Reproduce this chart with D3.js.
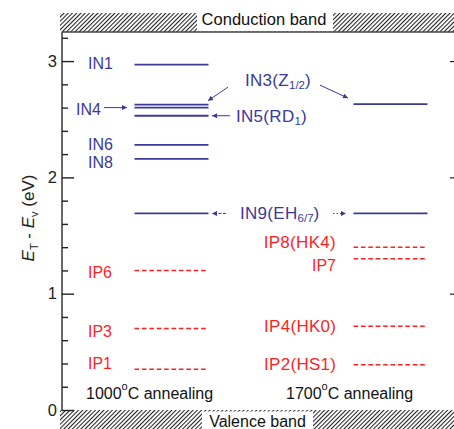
<!DOCTYPE html>
<html>
<head>
<meta charset="utf-8">
<script src="https://cdn.jsdelivr.net/npm/d3@7"></script>
<style>
  html, body { margin: 0; padding: 0; background: #fff; }
  svg { display: block; font-family: "Liberation Sans", Arial, sans-serif; }
</style>
</head>
<body>
<svg id="chart" width="454" height="429"></svg>
<script>
// Annealing temperatures (columns)
const groups = ["1000", "1700"];

// Electron-trap (IN) levels, E_T - E_v in eV
const inNames1000 = ["IN1", "IN3", "IN4", "IN5", "IN6", "IN8", "IN9"];
const inLevels1000 = [2.97, 2.625, 2.60, 2.53, 2.28, 2.16, 1.69];
const inNames1700 = ["IN3", "IN9"];
const inLevels1700 = [2.63, 1.69];

// Hole-trap (IP) levels, E_T - E_v in eV
const ipNames1000 = ["IP6", "IP3", "IP1"];
const ipLevels1000 = [1.20, 0.70, 0.35];
const ipNames1700 = ["IP8", "IP7", "IP4", "IP2"];
const ipLevels1700 = [1.40, 1.30, 0.72, 0.39];

// Axis ticks
const majorTicks = [0, 1, 2, 3];
const minorTicks = [0.2, 0.4, 0.6, 0.8, 1.2, 1.4, 1.6, 1.8, 2.2, 2.4, 2.6, 2.8, 3.2];

const BLUE = "#3a3a98";
const RED = "#ff1f1f";
const W = 454, H = 429;
const plot = { left: 62, right: 454, top: 32, bottom: 410 };

const svg = d3.select("#chart");

const y = d3.scaleLinear().domain([0, 3.25]).range([plot.bottom, plot.top]);
const x = d3.scalePoint().domain(groups).range([171.5, 390.5]);
const halfLen = 37;

// hatch pattern for the band regions
const defs = svg.append("defs");
const pat = defs.append("pattern")
  .attr("id", "hatch").attr("patternUnits", "userSpaceOnUse")
  .attr("width", 3).attr("height", 3)
  .attr("patternTransform", "rotate(45)");
pat.append("rect").attr("width", 3).attr("height", 3).attr("fill", "#fff");
pat.append("line").attr("x1", 0).attr("y1", 0).attr("x2", 0).attr("y2", 3)
  .attr("stroke", "#222").attr("stroke-width", 2.1);

function marker(id, color) {
  defs.append("marker").attr("id", id)
    .attr("viewBox", "0 0 10 10").attr("refX", 10).attr("refY", 5)
    .attr("markerWidth", 7).attr("markerHeight", 5)
    .attr("markerUnits", "userSpaceOnUse")
    .attr("orient", "auto")
    .append("path").attr("d", "M0,0 L10,5 L0,10 Z").attr("fill", color);
}
marker("arrBlue", BLUE);

// Conduction band (top) and valence band (bottom)
svg.append("rect").attr("x", 60).attr("y", 13).attr("width", W - 60).attr("height", plot.top - 13)
  .attr("fill", "url(#hatch)");
svg.append("rect").attr("x", 60).attr("y", plot.bottom).attr("width", W - 60).attr("height", H - plot.bottom)
  .attr("fill", "url(#hatch)");
svg.append("rect").attr("x", 197).attr("y", 12).attr("width", 136).attr("height", plot.top - 12.5).attr("fill", "#fff");
svg.append("rect").attr("x", 202).attr("y", plot.bottom + 1.5).attr("width", 111).attr("height", H - plot.bottom).attr("fill", "#fff");
svg.append("text").attr("x", 264).attr("y", 18.5).attr("text-anchor", "middle")
  .attr("dominant-baseline", "central").attr("font-size", 16.5).attr("fill", "#111")
  .text("Conduction band");
svg.append("text").attr("x", 257.5).attr("y", 421).attr("text-anchor", "middle")
  .attr("dominant-baseline", "central").attr("font-size", 16).attr("fill", "#111")
  .text("Valence band");

// frame lines
svg.append("line").attr("x1", plot.left).attr("x2", W).attr("y1", plot.top).attr("y2", plot.top)
  .attr("stroke", "#444").attr("stroke-width", 1.3);
svg.append("line").attr("x1", plot.left).attr("x2", plot.left).attr("y1", plot.top).attr("y2", plot.bottom)
  .attr("stroke", "#444").attr("stroke-width", 1.6);

// left axis: major ticks with labels, minor ticks inside
const gMaj = svg.append("g").attr("transform", `translate(${plot.left},0)`)
  .call(d3.axisLeft(y).tickValues(majorTicks).tickSize(-12).tickPadding(5).tickFormat(d3.format("d")));
const gMin = svg.append("g").attr("transform", `translate(${plot.left},0)`)
  .call(d3.axisLeft(y).tickValues(minorTicks).tickSize(-6).tickFormat(""));
[gMaj, gMin].forEach(g => {
  g.select(".domain").remove();
  g.selectAll(".tick line").attr("stroke", "#222").attr("stroke-width", 1.4);
});
gMaj.selectAll(".tick text").attr("font-size", 16.5).attr("fill", "#222")
  .attr("font-family", "Liberation Sans, Arial, sans-serif");

// right axis: short major ticks
const gR = svg.append("g").attr("transform", `translate(${W},0)`)
  .call(d3.axisRight(y).tickValues(majorTicks.filter(v => v > 0)).tickSize(-4).tickFormat(""));
gR.select(".domain").remove();
gR.selectAll(".tick line").attr("stroke", "#222").attr("stroke-width", 1.2);

// y axis title
const yt = svg.append("text")
  .attr("transform", "translate(34,218) rotate(-90)")
  .attr("text-anchor", "middle").attr("font-size", 17).attr("fill", "#222");
yt.append("tspan").attr("font-style", "italic").text("E");
yt.append("tspan").attr("font-size", 11).attr("dy", 4).text("T");
yt.append("tspan").attr("dy", -4).text(" - ");
yt.append("tspan").attr("font-style", "italic").text("E");
yt.append("tspan").attr("font-size", 11).attr("dy", 4).text("v");
yt.append("tspan").attr("dy", -4).text(" (eV)");

// energy level lines
function drawLevels(group, levels, color, dashed) {
  svg.append("g").selectAll("line").data(levels).join("line")
    .attr("x1", x(group) - halfLen).attr("x2", x(group) + halfLen)
    .attr("y1", d => y(d)).attr("y2", d => y(d))
    .attr("stroke", color)
    .attr("stroke-width", dashed ? 1.5 : 1.8)
    .attr("stroke-dasharray", dashed ? "4.6,2.8" : null);
}
drawLevels("1000", inLevels1000, BLUE, false);
drawLevels("1700", inLevels1700, BLUE, false);
drawLevels("1000", ipLevels1000, RED, true);
drawLevels("1700", ipLevels1700, RED, true);

// label helper: parts = [[text, isSub], ...]
function label(xPos, yPos, parts, color, anchor, size) {
  const t = svg.append("text").attr("x", xPos).attr("y", yPos)
    .attr("dominant-baseline", "central").attr("text-anchor", anchor || "start")
    .attr("font-size", size || 16).attr("fill", color);
  if (size) t.attr("letter-spacing", 0.3);
  let sub = false;
  parts.forEach(([s, isSub]) => {
    const sp = t.append("tspan").text(s);
    if (isSub && !sub) sp.attr("dy", 5);
    if (!isSub && sub) sp.attr("dy", -5);
    if (isSub) sp.attr("font-size", 11.5).attr("letter-spacing", 0);
    sub = isSub;
  });
  return t;
}
const lv = (names, levels, n) => levels[names.indexOf(n)];

// 1000 °C column labels (left of the lines)
const xL = 88;
label(xL, y(lv(inNames1000, inLevels1000, "IN1")) - 2, [["IN1"]], BLUE);
label(76, y(lv(inNames1000, inLevels1000, "IN4")) + 1, [["IN4"]], BLUE);
label(xL, y(lv(inNames1000, inLevels1000, "IN6")) - 1, [["IN6"]], BLUE);
label(xL, y(lv(inNames1000, inLevels1000, "IN8")) + 3, [["IN8"]], BLUE);
label(xL, y(lv(ipNames1000, ipLevels1000, "IP6")) + 2, [["IP6"]], RED);
label(xL, y(lv(ipNames1000, ipLevels1000, "IP3")) + 2, [["IP3"]], RED);
label(xL, y(lv(ipNames1000, ipLevels1000, "IP1")) - 6, [["IP1"]], RED);

// middle labels
const yIN3 = y(lv(inNames1700, inLevels1700, "IN3"));
label(245, yIN3 - 24, [["IN3(Z"], ["1/2", true], [")"]], BLUE, "start", 17);
label(236, y(lv(inNames1000, inLevels1000, "IN5")), [["IN5(RD"], ["1", true], [")"]], BLUE, "start", 17);
label(240, y(lv(inNames1700, inLevels1700, "IN9")), [["IN9(EH"], ["6/7", true], [")"]], BLUE, "start", 17);
label(336, y(lv(ipNames1700, ipLevels1700, "IP8")) - 5, [["IP8(HK4)"]], RED, "end", 17);
label(336, y(lv(ipNames1700, ipLevels1700, "IP7")) + 6, [["IP7"]], RED, "end");
label(264, y(lv(ipNames1700, ipLevels1700, "IP4")), [["IP4(HK0)"]], RED, "start", 17);
label(264, y(lv(ipNames1700, ipLevels1700, "IP2")) - 1, [["IP2(HS1)"]], RED, "start", 17);

// column captions
function caption(xPos, temp) {
  const t = svg.append("text").attr("x", xPos).attr("y", 393)
    .attr("dominant-baseline", "central").attr("font-size", 16).attr("fill", "#111");
  t.append("tspan").text(temp);
  t.append("tspan").attr("font-size", 11).attr("dy", -7).text("o");
  t.append("tspan").attr("dy", 7).text("C annealing");
}
caption(86, groups[0]);
caption(286, groups[1]);

// arrows
function arrow(x1, y1, x2, y2, dash) {
  svg.append("line").attr("x1", x1).attr("y1", y1).attr("x2", x2).attr("y2", y2)
    .attr("stroke", BLUE).attr("stroke-width", 1)
    .attr("stroke-dasharray", dash || null)
    .attr("marker-end", "url(#arrBlue)");
}
const yIN4 = y(lv(inNames1000, inLevels1000, "IN4"));
const yIN3L = y(lv(inNames1000, inLevels1000, "IN3"));
const yIN5 = y(lv(inNames1000, inLevels1000, "IN5"));
const yIN9 = y(lv(inNames1700, inLevels1700, "IN9"));
arrow(104, yIN4, 127, yIN4);
arrow(228, yIN3 - 17, 208, yIN3L - 4);
arrow(320, yIN3 - 19, 348, yIN3 - 6);
arrow(230, yIN5, 212, yIN5);
arrow(226, yIN9, 212, yIN9, "3,1.5");
arrow(333, yIN9, 346, yIN9, "1.5,2");
</script>
</body>
</html>
